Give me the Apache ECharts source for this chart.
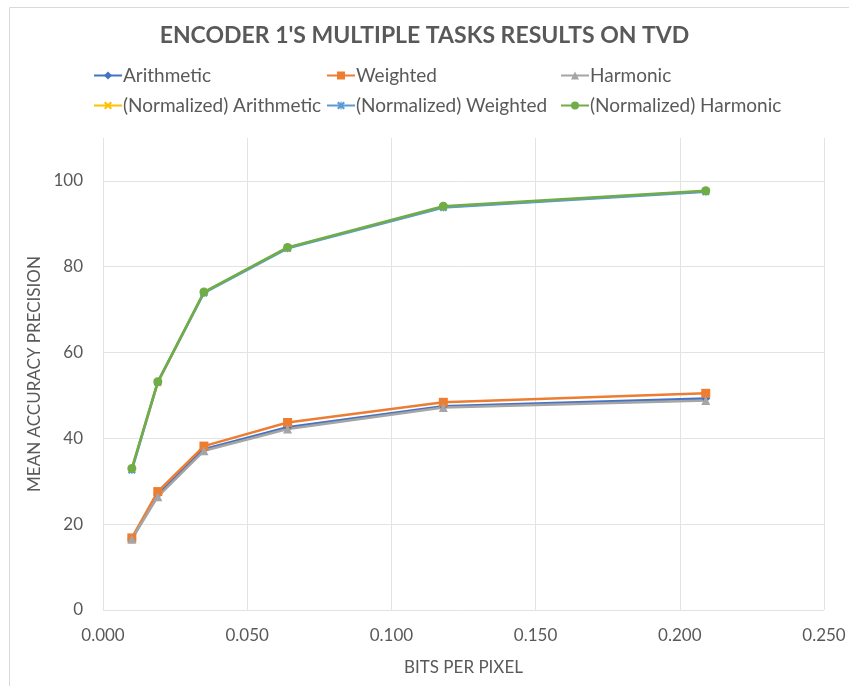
<!DOCTYPE html>
<html>
<head>
<meta charset="utf-8">
<script src="https://cdn.jsdelivr.net/npm/echarts@6/dist/echarts.min.js"></script>
<style>
  html, body { margin: 0; padding: 0; background: #fff; }
  #chart { width: 849px; height: 686px; }
</style>
</head>
<body>
<div id="chart"></div>
<script>
  // bits per pixel (x) and mean accuracy precision per method
  var bpp = [0.010, 0.019, 0.035, 0.064, 0.118, 0.209]
  var arithmetic = [16.6, 26.9, 37.5, 42.6, 47.5, 49.3]
  var weighted = [16.8, 27.6, 38.2, 43.7, 48.4, 50.5]
  var harmonic = [16.5, 26.4, 37.1, 42.2, 47.2, 48.8]
  var normArithmetic = [32.8, 53.0, 74.0, 84.4, 93.9, 97.6]
  var normWeighted = [32.6, 53.1, 73.9, 84.3, 93.8, 97.5]
  var normHarmonic = [33.0, 53.2, 74.1, 84.5, 94.1, 97.7]

  var textColor = '#595959'
  var font = 'Lato'
  // filled x and asterisk markers
  var crossPath = 'path://M2,0L5,3L8,0L10,2L7,5L10,8L8,10L5,7L2,10L0,8L3,5L0,2Z'
  var starPath = 'path://M2,0L5,3L8,0L10,2L7,5L10,8L8,10L5,7L2,10L0,8L3,5L0,2Z M4.3,0L5.7,0L5.7,10L4.3,10Z'

  function pairs (ys) {
    return bpp.map(function (x, i) { return [x, ys[i]] })
  }

  function lineSeries (name, ys, color, symbol, size) {
    return {
      name: name,
      type: 'line',
      data: pairs(ys),
      symbol: symbol,
      symbolSize: size,
      color: color,
      lineStyle: { width: 2.5, color: color },
      itemStyle: { color: color, borderColor: color, borderWidth: 0 },
      emphasis: { disabled: true },
      animation: false
    }
  }

  var myChart = echarts.init(document.getElementById('chart'))

  var legendBase = {
    orient: 'vertical',
    top: 61,
    itemWidth: 28,
    itemHeight: 10,
    itemGap: 11,
    textStyle: { color: textColor, fontSize: 19, fontFamily: font, padding: [0, 0, 0, -4] }
  }

  var option = {
    backgroundColor: '#fff',
    title: {
      text: "ENCODER 1'S MULTIPLE TASKS RESULTS ON TVD",
      left: 'center',
      top: 19,
      textStyle: { color: textColor, fontSize: 23, fontWeight: 'bold', fontFamily: font }
    },
    legend: [
      Object.assign({}, legendBase, { left: 88, data: ['Arithmetic', '(Normalized) Arithmetic'] }),
      Object.assign({}, legendBase, { left: 321, data: ['Weighted', '(Normalized) Weighted'] }),
      Object.assign({}, legendBase, { left: 555, data: ['Harmonic', '(Normalized) Harmonic'] })
    ],
    graphic: [{
      type: 'rect',
      shape: { x: 9.5, y: 7.5, width: 900, height: 700 },
      style: { fill: 'none', stroke: '#d9d9d9', lineWidth: 1 },
      silent: true
    }],
    grid: { left: 103, right: 25, top: 138, bottom: 76, containLabel: false },
    xAxis: {
      type: 'value',
      min: 0,
      max: 0.25,
      interval: 0.05,
      name: 'BITS PER PIXEL',
      nameLocation: 'middle',
      nameGap: 49,
      nameTextStyle: { color: textColor, fontSize: 17, fontFamily: font },
      axisLine: { show: false },
      axisTick: { show: false },
      axisLabel: {
        color: textColor, fontSize: 17, fontFamily: font, margin: 17,
        formatter: function (v) { return v.toFixed(3) }
      },
      splitLine: { show: true, lineStyle: { color: '#e3e3e3', width: 1 } }
    },
    yAxis: {
      type: 'value',
      min: 0,
      max: 110,
      interval: 20,
      name: 'MEAN ACCURACY PRECISION',
      nameLocation: 'middle',
      nameGap: 56,
      nameTextStyle: { color: textColor, fontSize: 17, fontFamily: font },
      axisLine: { show: false },
      axisTick: { show: false },
      axisLabel: {
        color: textColor, fontSize: 17, fontFamily: font, margin: 20,
        showMaxLabel: false,
        formatter: function (v) { return v > 100 ? '' : String(v) }
      },
      splitLine: { show: true, showMaxLine: false, lineStyle: { color: '#e3e3e3', width: 1 } }
    },
    series: [
      lineSeries('Arithmetic', arithmetic, '#4472C4', 'diamond', 9),
      lineSeries('Weighted', weighted, '#ED7D31', 'rect', 9),
      lineSeries('Harmonic', harmonic, '#A5A5A5', 'triangle', 9),
      lineSeries('(Normalized) Arithmetic', normArithmetic, '#FFC000', crossPath, 8),
      lineSeries('(Normalized) Weighted', normWeighted, '#5B9BD5', starPath, 8),
      lineSeries('(Normalized) Harmonic', normHarmonic, '#70AD47', 'circle', 9)
    ]
  }

  myChart.setOption(option)
</script>
</body>
</html>
